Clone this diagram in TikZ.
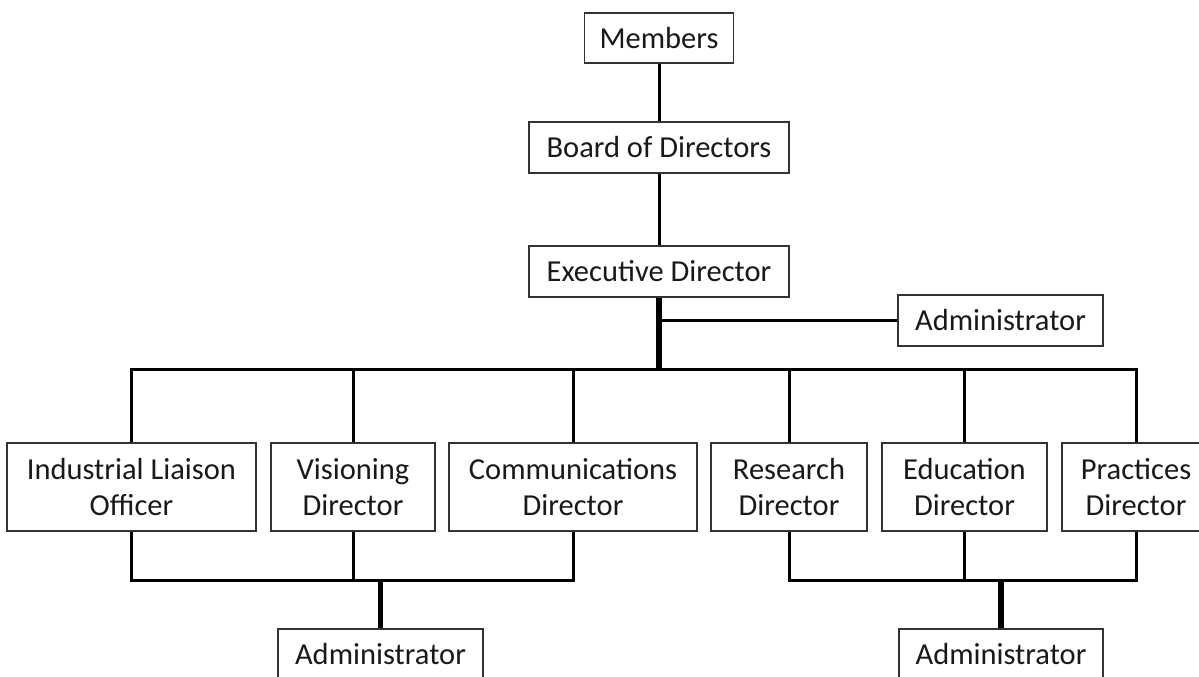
\documentclass[tikz,border=0pt]{standalone}
\usepackage{fontspec}
\setmainfont{Carlito}
\begin{document}
\begin{tikzpicture}[x=1pt,y=-1pt,
  orgbox/.style={draw=black!80, line width=1.4pt, fill=white, align=center,
    inner sep=0pt, font=\fontsize{30.5}{36}\selectfont, text=black!90},
  conn/.style={line width=3pt, black},
  heavy/.style={line width=5.5pt, black}]
\useasboundingbox (0,0) rectangle (1199,677);
\clip (0,0) rectangle (1199,677);
\fill[white] (0,0) rectangle (1199,677);

% top of the chart
\node[orgbox, minimum width=149pt, minimum height=50pt] (mem)   at (659,38)    {Members};
\node[orgbox, minimum width=260pt, minimum height=51pt] (board) at (659,147.5) {Board of Directors};
\node[orgbox, minimum width=260pt, minimum height=51pt] (exec)  at (659,271.5) {Executive Director};
\node[orgbox, minimum width=205pt, minimum height=51pt] (admtop) at (1000.5,320.5) {Administrator};

% director row
\node[orgbox, minimum width=249pt, minimum height=88pt] (ind) at (131.5,487) {Industrial Liaison\\Officer};
\node[orgbox, minimum width=164pt, minimum height=88pt] (vis) at (353,487)   {Visioning\\Director};
\node[orgbox, minimum width=248pt, minimum height=88pt] (com) at (573,487)   {Communications\\Director};
\node[orgbox, minimum width=156pt, minimum height=88pt] (res) at (789,487)   {Research\\Director};
\node[orgbox, minimum width=165pt, minimum height=88pt] (edu) at (964.5,487) {Education\\Director};
\node[orgbox, minimum width=148pt, minimum height=88pt] (pra) at (1136,487)  {Practices\\Director};

% group administrators
\node[orgbox, minimum width=205pt, minimum height=51pt] (admL) at (380.5,654.5) {Administrator};
\node[orgbox, minimum width=204pt, minimum height=51pt] (admR) at (1001,654.5)  {Administrator};

% junction points
\coordinate (tap)  at (659,320.5);
\coordinate (hub)  at (659,369);
\coordinate (lowL) at (380.5,580);
\coordinate (lowR) at (1001,580);

% connectors
\draw[conn] (mem.south) -- (board.north);
\draw[conn] (board.south) -- (exec.north);
\draw[heavy] (exec.south) -- (hub);
\draw[conn] (tap) -- (admtop.west);
\draw[conn] (ind.north) |- (hub) -| (pra.north);
\foreach \n in {vis,com,res,edu} \draw[conn] (\n.north) -- (\n.north |- hub);

\draw[conn] (ind.south) |- (lowL) -| (com.south);
\draw[conn] (vis.south) -- (vis.south |- lowL);
\draw[heavy] (lowL) -- (admL.north);

\draw[conn] (res.south) |- (lowR) -| (pra.south);
\draw[conn] (edu.south) -- (edu.south |- lowR);
\draw[heavy] (lowR) -- (admR.north);
\end{tikzpicture}
\end{document}
